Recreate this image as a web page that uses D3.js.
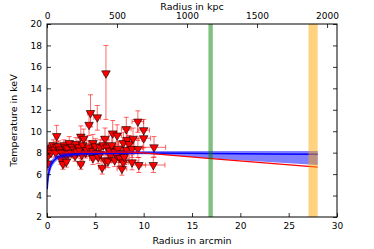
<!DOCTYPE html>
<html>
<head>
<meta charset="utf-8">
<script src="https://cdn.jsdelivr.net/npm/d3@7"></script>
<style>
  body { margin: 0; background: #fff; }
  svg text { font-family: "DejaVu Sans", sans-serif; }
</style>
</head>
<body>
<div id="chart"></div>
<script>
// measured profile (arcmin, keV)
const radius = [0.05, 0.1, 0.2, 0.3, 0.4, 0.5, 0.65, 0.8, 0.9, 1.0, 1.0, 1.2, 1.3, 1.4, 1.45, 1.6, 1.65, 1.75,
  1.9, 2.0, 2.0, 2.1, 2.2, 2.3, 2.5, 2.6, 2.8, 2.9, 3.0, 3.1, 3.3, 3.4, 3.5, 3.5, 3.6, 3.7, 3.8, 4.0, 4.1,
  4.3, 4.35, 4.5, 4.6, 4.75, 4.75, 4.75, 5.0, 5.15, 5.2, 5.3, 5.5, 5.5, 5.7, 5.8, 6.0, 6.0, 6.1, 6.2, 6.3,
  6.5, 6.6, 6.7, 6.8, 7.0, 7.0, 7.2, 7.25, 7.35, 7.55, 7.75, 7.75, 7.9, 7.9, 8.0, 8.2, 8.25, 8.3, 8.5, 8.8,
  8.8, 8.9, 9.4, 9.4, 9.5, 10.0, 10.0, 11.0, 11.07];
const radiusErr = [0.05, 0.1, 0.1, 0.1, 0.1, 0.15, 0.15, 0.15, 0.15, 0.2, 0.2, 0.2, 0.2, 0.2, 0.2, 0.2, 0.2, 0.2,
  0.2, 0.2, 0.2, 0.2, 0.2, 0.25, 0.25, 0.25, 0.25, 0.25, 0.25, 0.25, 0.3, 0.3, 0.3, 0.3, 0.3, 0.3, 0.3, 0.3, 0.3,
  0.3, 0.3, 0.3, 0.3, 0.35, 0.35, 0.35, 0.35, 0.35, 0.35, 0.35, 0.35, 0.35, 0.35, 0.35, 0.4, 0.4, 0.2, 0.4, 0.4,
  0.4, 0.4, 0.4, 0.4, 0.45, 0.45, 0.45, 0.45, 0.45, 0.45, 0.5, 0.5, 0.5, 0.5, 0.5, 0.5, 0.5, 0.5, 0.5, 0.6,
  0.6, 0.6, 0.6, 0.6, 0.7, 0.6, 0.7, 1.2, 1.2];
const temp = [7.6, 7.0, 8.4, 8.2, 8.0, 8.5, 8.7, 8.3, 8.0, 8.55, 9.55, 8.6, 8.3, 8.1, 7.4, 8.0, 6.95, 8.7,
  8.5, 7.8, 7.15, 8.4, 7.9, 8.9, 8.0, 8.55, 8.3, 7.7, 8.8, 8.1, 8.5, 8.2, 9.5, 6.95, 7.8, 8.7, 9.3, 8.0, 8.25,
  8.5, 10.6, 11.7, 7.9, 8.9, 8.15, 7.5, 8.6, 8.0, 11.3, 7.6, 8.5, 7.9, 6.6, 8.7, 9.3, 7.3, 15.4, 8.5, 7.2,
  8.2, 7.7, 8.7, 9.8, 8.1, 7.3, 7.8, 9.6, 8.35, 7.5, 7.95, 6.5, 8.9, 7.1, 7.6, 10.2, 8.25, 9.2, 8.8, 8.35,
  7.1, 9.3, 8.35, 10.9, 6.85, 10.1, 9.35, 6.85, 8.5];
const tempErrDown = [0.6, 0.6, 0.5, 0.4, 0.4, 0.4, 0.5, 0.4, 0.4, 0.5, 0.9, 0.5, 0.4, 0.4, 0.5, 0.4, 0.5, 0.5,
  0.5, 0.5, 0.5, 0.5, 0.5, 0.6, 0.5, 0.5, 0.5, 0.5, 0.6, 0.5, 0.6, 0.5, 0.9, 0.5, 0.5, 0.6, 0.8, 0.5, 0.6,
  0.6, 1.0, 1.3, 0.6, 0.7, 0.6, 0.6, 0.7, 0.6, 1.2, 0.6, 0.7, 0.6, 0.6, 0.7, 0.9, 0.6, 4.3, 0.7, 0.6,
  0.7, 0.6, 0.8, 1.0, 0.7, 0.6, 0.7, 0.9, 0.7, 0.7, 0.7, 0.6, 0.9, 0.6, 0.7, 1.0, 0.8, 0.8, 0.8, 0.8,
  0.7, 0.9, 0.8, 1.0, 0.7, 1.0, 0.9, 0.7, 0.9];
const tempErrUp = [0.6, 0.6, 0.5, 0.4, 0.4, 0.4, 0.5, 0.4, 0.4, 0.5, 1.0, 0.5, 0.4, 0.4, 0.5, 0.4, 0.5, 0.5,
  0.5, 0.5, 0.5, 0.5, 0.5, 0.6, 0.5, 0.5, 0.5, 0.5, 0.6, 0.5, 0.6, 0.5, 1.0, 0.5, 0.5, 0.6, 0.9, 0.5, 0.6,
  0.6, 1.2, 1.7, 0.6, 0.8, 0.6, 0.6, 0.7, 0.6, 1.1, 0.6, 0.7, 0.6, 0.6, 0.8, 1.0, 0.6, 2.6, 0.7, 0.6,
  0.7, 0.6, 0.9, 1.2, 0.7, 0.6, 0.7, 1.0, 0.7, 0.7, 0.7, 0.6, 1.0, 0.6, 0.7, 1.1, 0.8, 0.9, 0.8, 0.8,
  0.7, 1.0, 0.8, 1.0, 0.7, 1.0, 0.9, 0.7, 1.0];

// model fit and its confidence band
const modelR = [0.02, 0.1, 0.2, 0.4, 0.7, 1.0, 1.5, 2, 3, 4, 6, 10, 17, 28];
const modelT = [4.6, 5.6, 6.2, 6.8, 7.25, 7.5, 7.68, 7.78, 7.87, 7.92, 7.95, 7.97, 7.92, 7.85];
const modelHi = [5.4, 6.3, 6.8, 7.2, 7.55, 7.75, 7.9, 8.0, 8.07, 8.1, 8.12, 8.15, 8.15, 8.15];
const modelLo = [3.8, 5.0, 5.6, 6.4, 6.95, 7.25, 7.45, 7.55, 7.7, 7.75, 7.8, 7.85, 7.45, 6.85];

// extrapolated lower line
const lineR = [0, 9, 17, 28];
const lineT = [8.05, 8.05, 7.45, 6.65];

// marked radii (arcmin)
const greenBand = [16.7, 17.15];
const orangeBand = [27.05, 28.0];

const xTicks = [0, 5, 10, 15, 20, 25, 30];
const yTicks = [2, 4, 6, 8, 10, 12, 14, 16, 18, 20];
const kpcTicks = [0, 500, 1000, 1500, 2000];
const kpcMax = 2071;

const margin = {top: 24, right: 37, bottom: 32, left: 47},
  width = 374 - margin.left - margin.right,
  height = 249 - margin.top - margin.bottom;

const svg = d3.select('#chart')
  .append('svg')
  .attr('width', 374)
  .attr('height', 249)
  .append('g')
  .attr('transform', `translate(${margin.left}, ${margin.top})`);

const xScale = d3.scaleLinear().domain([0, 30]).range([0, width]);
const kpcScale = d3.scaleLinear().domain([0, kpcMax]).range([0, width]);
const yScale = d3.scaleLinear().domain([2, 20]).range([height, 0]);

const plot = svg.append('g');
plot.append('clipPath').attr('id', 'clip')
  .append('rect').attr('width', width).attr('height', height);
const inner = plot.append('g').attr('clip-path', 'url(#clip)');

const points = radius.map((r, i) => ({
  r, t: temp[i], dr: radiusErr[i], lo: temp[i] - tempErrDown[i], hi: temp[i] + tempErrUp[i]
}));

// error bars
const errColor = 'rgba(255,0,0,0.6)';
const cap = 2.5;
const eb = inner.append('g');
points.forEach(d => {
  const x = xScale(d.r), y = yScale(d.t);
  eb.append('line').attr('x1', x).attr('x2', x).attr('y1', yScale(d.lo)).attr('y2', yScale(d.hi))
    .attr('stroke', errColor).attr('stroke-width', 1);
  eb.append('line').attr('x1', xScale(d.r - d.dr)).attr('x2', xScale(d.r + d.dr)).attr('y1', y).attr('y2', y)
    .attr('stroke', errColor).attr('stroke-width', 1);
  [yScale(d.lo), yScale(d.hi)].forEach(yy => {
    eb.append('line').attr('x1', x - cap).attr('x2', x + cap).attr('y1', yy).attr('y2', yy)
      .attr('stroke', errColor).attr('stroke-width', 1);
  });
  [xScale(d.r - d.dr), xScale(d.r + d.dr)].forEach(xx => {
    eb.append('line').attr('x1', xx).attr('x2', xx).attr('y1', y - cap).attr('y2', y + cap)
      .attr('stroke', errColor).attr('stroke-width', 1);
  });
});

// markers
const tri = d3.symbol().type(d3.symbolTriangle).size(32);
inner.append('g').selectAll('path')
  .data(points)
  .enter()
  .append('path')
  .attr('d', tri)
  .attr('transform', d => `translate(${xScale(d.r)},${yScale(d.t)}) rotate(180)`)
  .attr('fill', '#ff0000')
  .attr('stroke', '#000')
  .attr('stroke-width', 0.6);

// model band + line
const modelData = modelR.map((r, i) => ({r, t: modelT[i], lo: modelLo[i], hi: modelHi[i]}));
inner.append('path')
  .attr('d', d3.area().x(d => xScale(d.r)).y0(d => yScale(d.lo)).y1(d => yScale(d.hi))
    .curve(d3.curveMonotoneX)(modelData))
  .attr('fill', 'rgba(0,0,255,0.5)');
inner.append('path')
  .attr('d', d3.line().x(d => xScale(d.r)).y(d => yScale(d.t)).curve(d3.curveMonotoneX)(modelData))
  .attr('fill', 'none').attr('stroke', '#0000ff').attr('stroke-width', 1.5);

const lineData = lineR.map((r, i) => ({r, t: lineT[i]}));
inner.append('path')
  .attr('d', d3.line().x(d => xScale(d.r)).y(d => yScale(d.t))(lineData))
  .attr('fill', 'none').attr('stroke', '#ff0000').attr('stroke-width', 1.2);

// vertical bands
inner.append('rect')
  .attr('x', xScale(greenBand[0])).attr('width', xScale(greenBand[1]) - xScale(greenBand[0]))
  .attr('y', 0).attr('height', height)
  .attr('fill', 'rgba(0,128,0,0.5)');
inner.append('rect')
  .attr('x', xScale(orangeBand[0])).attr('width', xScale(orangeBand[1]) - xScale(orangeBand[0]))
  .attr('y', 0).attr('height', height)
  .attr('fill', 'rgba(255,165,0,0.5)');

// axes (ticks pointing inward)
function styleAxis(g) {
  g.select('.domain').remove();
  g.selectAll('.tick line').attr('stroke', '#000').attr('stroke-width', 0.8);
  g.selectAll('.tick text').attr('fill', '#000').style('font-size', '9px');
}
svg.append('g').attr('transform', `translate(0,${height})`)
  .call(d3.axisBottom(xScale).tickValues(xTicks).tickSizeInner(-4).tickSizeOuter(0).tickPadding(6))
  .call(styleAxis);
svg.append('g')
  .call(d3.axisTop(kpcScale).tickValues(kpcTicks).tickFormat(d3.format('d'))
    .tickSizeInner(-4).tickSizeOuter(0).tickPadding(5))
  .call(styleAxis);
svg.append('g')
  .call(d3.axisLeft(yScale).tickValues(yTicks).tickSizeInner(-4).tickSizeOuter(0).tickPadding(5))
  .call(styleAxis);
svg.append('g').attr('transform', `translate(${width},0)`)
  .call(d3.axisRight(yScale).tickValues(yTicks).tickSizeInner(-4).tickSizeOuter(0).tickFormat(''))
  .call(styleAxis);

svg.append('rect')
  .attr('width', width).attr('height', height)
  .attr('fill', 'none').attr('stroke', '#000').attr('stroke-width', 1);

// labels
svg.append('text')
  .attr('x', width / 2).attr('y', height + 27)
  .attr('text-anchor', 'middle').style('font-size', '9.5px')
  .text('Radius in arcmin');
svg.append('text')
  .attr('x', width / 2).attr('y', -14)
  .attr('text-anchor', 'middle').style('font-size', '9.5px')
  .text('Radius in kpc');
svg.append('text')
  .attr('transform', `translate(-30,${height / 2}) rotate(-90)`)
  .attr('text-anchor', 'middle').style('font-size', '9.5px')
  .text('Temperature in keV');
</script>
</body>
</html>
